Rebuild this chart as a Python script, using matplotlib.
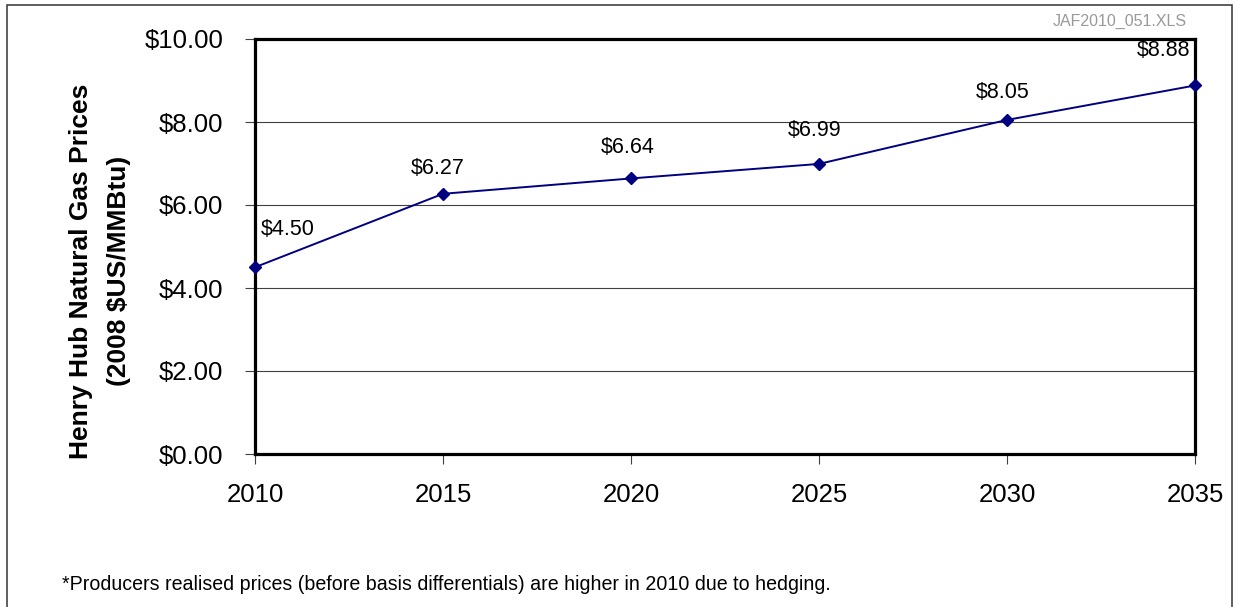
import matplotlib.pyplot as plt
from matplotlib.patches import Rectangle
from matplotlib.ticker import FuncFormatter

# data
years = [2010, 2015, 2020, 2025, 2030, 2035]
prices = [4.50, 6.27, 6.64, 6.99, 8.05, 8.88]
price_labels = ['$4.50', '$6.27', '$6.64', '$6.99', '$8.05', '$8.88']

# label offsets (pixels) as placed in the reference
label_offsets = [(33, 38), (-5, 25), (-3, 31), (-4, 33), (-4, 27), (-31, 35)]

FONT = ['Liberation Sans', 'DejaVu Sans']
NAVY = '#000080'
plt.rcParams['font.family'] = FONT

W, H = 1235, 607
fig = plt.figure(figsize=(W / 100, H / 100), dpi=100)

# outer chart border
fig.add_artist(Rectangle((7 / W, -0.02), (1232 - 7) / W, 1 - 5 / H + 0.02,
                         transform=fig.transFigure, fill=False,
                         edgecolor='#333333', lw=1.1))

ax = fig.add_axes([255 / W, 1 - 454 / H, (1195 - 255) / W, (454 - 39) / H])
ax.plot(years, prices, color=NAVY, lw=1.4, marker='D', markersize=6,
        zorder=5, clip_on=False)

for x, y, s, (dx, dy) in zip(years, prices, price_labels, label_offsets):
    ax.annotate(s, (x, y), xytext=(dx, dy), textcoords='offset pixels',
                ha='center', va='center', fontsize=15.5, color='black')

ax.set_xlim(2010, 2035)
ax.set_ylim(0, 10)
ax.set_xticks(years)
ax.set_yticks([0, 2, 4, 6, 8, 10])
ax.yaxis.set_major_formatter(FuncFormatter(lambda v, p: f'${v:.2f}'))
ax.grid(axis='y', color='#404040', lw=0.8)
ax.set_axisbelow(True)
for sp in ax.spines.values():
    sp.set_linewidth(2.3)
    sp.set_color('black')
ax.tick_params(axis='both', direction='out', length=7, width=0.8,
               color='#404040', labelsize=18.5)
ax.tick_params(axis='y', pad=16)
ax.tick_params(axis='x', pad=14)

fig.text(100 / W, 1 - 271 / H,
         'Henry Hub Natural Gas Prices\n(2008 $US/MMBtu)',
         rotation=90, ha='center', va='center', multialignment='center',
         fontsize=19, fontweight='bold', linespacing=1.72)

fig.text(1187 / W, 1 - 21 / H, 'JAF2010_051.XLS', ha='right', va='center',
         fontsize=11.5, color='#999999')

fig.text(62 / W, 1 - 584 / H,
         '*Producers realised prices (before basis differentials) are higher in 2010 due to hedging.',
         ha='left', va='center', fontsize=14.1)

fig.savefig('out.png', dpi=100, facecolor='white')
